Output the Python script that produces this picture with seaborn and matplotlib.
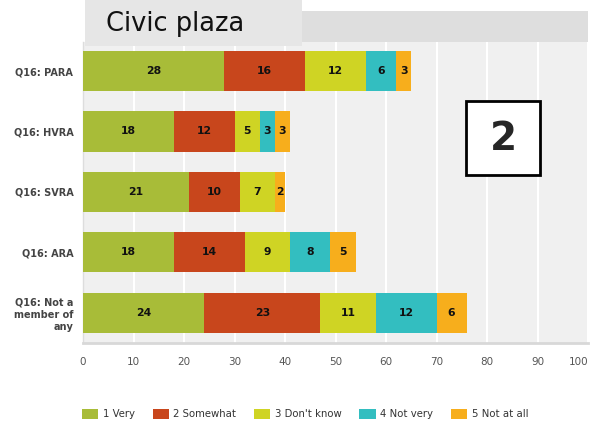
import matplotlib
matplotlib.use("Agg")
import matplotlib.pyplot as plt
import matplotlib.patches as mpatches
import seaborn as sns
import pandas as pd
import numpy as np

categories = ["Q16: PARA", "Q16: HVRA", "Q16: SVRA", "Q16: ARA", "Q16: Not a\nmember of\nany"]
series_names = ["1 Very", "2 Somewhat", "3 Don't know", "4 Not very", "5 Not at all"]
very = [28, 18, 21, 18, 24]
somewhat = [16, 12, 10, 14, 23]
dont_know = [12, 5, 7, 9, 11]
not_very = [6, 3, 0, 8, 12]
not_at_all = [3, 3, 2, 5, 6]
colors = ["#a8bc38", "#c8461c", "#cfd424", "#33bec0", "#f7ae1c"]
xticks = [0, 10, 20, 30, 40, 50, 60, 70, 80, 90, 100]

sns.set_theme(style="white")
plt.rcParams['font.family'] = ['DejaVu Sans']

W, H = 592, 425
fig = plt.figure(figsize=(W / 100, H / 100), dpi=100)
fig.patch.set_facecolor("white")

def fx(px):
    return px / W

def fy(py):
    return 1 - py / H

# header band and title box
fig.patches.append(mpatches.Rectangle((fx(302), fy(42)), fx(588) - fx(302), fy(11) - fy(42),
                                      transform=fig.transFigure, facecolor="#dedede", edgecolor="none", zorder=0))
fig.patches.append(mpatches.Rectangle((fx(85), fy(46)), fx(302) - fx(85), fy(0) - fy(46),
                                      transform=fig.transFigure, facecolor="#e6e6e6", edgecolor="none", zorder=0))
fig.text(fx(106), fy(24), "Civic plaza", fontsize=18.5, color="#111111", va="center", ha="left")

ax = fig.add_axes([fx(83), fy(343), fx(588) - fx(83), fy(42) - fy(343)])
ax.set_facecolor("#f0f0f0")

series = [very, somewhat, dont_know, not_very, not_at_all]
cum = np.cumsum(np.array(series), axis=0)
df = pd.DataFrame({"cat": categories})
for i in range(len(series) - 1, -1, -1):
    df["v"] = cum[i]
    sns.barplot(data=df, x="v", y="cat", orient="h", color=colors[i], width=0.667,
                saturation=1, ax=ax, zorder=3, linewidth=0)

starts = cum - np.array(series)
for i, vals in enumerate(series):
    for j, v in enumerate(vals):
        if v > 0:
            ax.text(starts[i][j] + v / 2, j, str(v), ha="center", va="center",
                    fontsize=7.8, fontweight="bold", color="#111111", zorder=5)

ax.set_xlim(0, 100)
ax.set_ylim(4.5, -0.48)
ax.set_xticks(xticks)
ax.set_xticklabels([str(t) for t in xticks], fontsize=7.5, color="#555555")
ax.get_xticklabels()[-1].set_ha("right")
ax.get_xticklabels()[-1].set_x(100.2)
ax.tick_params(axis="x", length=0, pad=10)
ax.tick_params(axis="y", length=0, pad=7)
ax.set_yticks(range(len(categories)))
ax.set_yticklabels(categories, fontsize=7, fontweight="bold", color="#444444", ha="right",
                   linespacing=1.3)
ax.set_xlabel("")
ax.set_ylabel("")
ax.grid(axis="x", color="white", linewidth=1.5, zorder=1)
ax.set_axisbelow(True)
for s in ["top", "right"]:
    ax.spines[s].set_visible(False)
ax.spines["bottom"].set_color("#d8d8d8")
ax.spines["bottom"].set_linewidth(2)
ax.spines["left"].set_color("#dddddd")
ax.spines["left"].set_linewidth(1)

# box with "2"
fig.patches.append(mpatches.Rectangle((fx(466), fy(175)), fx(540) - fx(466), fy(101) - fy(175),
                                      transform=fig.transFigure, facecolor="white", edgecolor="black",
                                      linewidth=2, zorder=10))
fig.text(fx(503), fy(139), "2", fontsize=28, fontweight="bold", ha="center", va="center", zorder=11)

handles = [mpatches.Patch(facecolor=c, edgecolor="none") for c in colors]
fig.legend(handles, series_names, loc="center left", bbox_to_anchor=(fx(73), fy(414)), ncol=5,
           frameon=False, fontsize=7.3, handlelength=1.6, handleheight=1.2, columnspacing=1.75,
           handletextpad=0.45, labelcolor="#333333")

fig.savefig("out.png", dpi=100)
